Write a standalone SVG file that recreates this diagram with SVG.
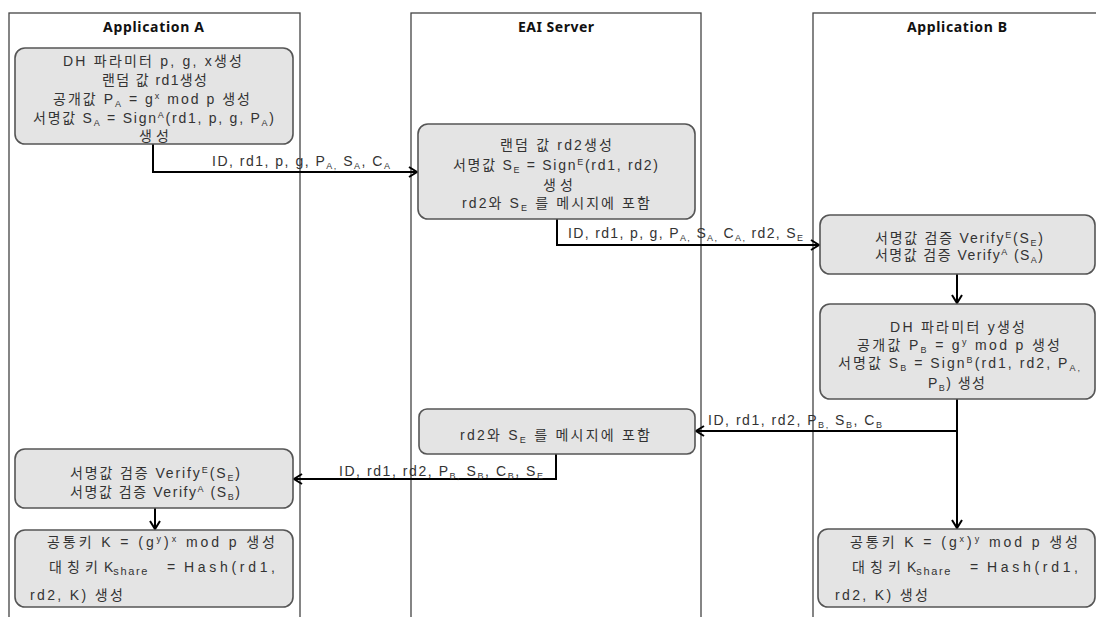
<svg xmlns="http://www.w3.org/2000/svg" width="1096" height="617" viewBox="0 0 1096 617">
<style>
.lane{fill:#fff;stroke:#444;stroke-width:1.3}
.hd{font-family:"Noto Sans","Liberation Sans",sans-serif;font-weight:bold;font-size:14px;fill:#111}
.box{fill:#e4e4e4;stroke:#555;stroke-width:1.6}
.t{font-family:"Liberation Sans","Noto Sans CJK KR",sans-serif;font-size:14px;fill:#333}
.sb{font-size:9px;baseline-shift:-2.5px}
.sp{font-size:9px;baseline-shift:5px}
.sh{font-size:11px;letter-spacing:1.6px;baseline-shift:-3px}
.ln{fill:none;stroke:#000;stroke-width:2}
</style>
<defs>
<marker id="ah" markerUnits="userSpaceOnUse" markerWidth="12" markerHeight="12" refX="9" refY="6" orient="auto">
<path d="M1,1 L9,6 L1,11" fill="none" stroke="#000" stroke-width="2"/>
</marker>
</defs>
<rect width="1096" height="617" fill="#fff"/>
<g id="lane-a"><rect class="lane" x="9" y="13" width="291" height="640"/><text class="hd" x="103" y="32" textLength="101" lengthAdjust="spacing">Application A</text></g>
<g id="lane-eai"><rect class="lane" x="411" y="13" width="290" height="640"/><text class="hd" x="518" y="32" textLength="76" lengthAdjust="spacing">EAI Server</text></g>
<g id="lane-b"><rect class="lane" x="813" y="13" width="300" height="640"/><text class="hd" x="907" y="32" textLength="100" lengthAdjust="spacing">Application B</text></g>

<g id="connectors">
<path class="ln" d="M153,144 V172 H417" marker-end="url(#ah)"/>
<path class="ln" d="M557,219 V245 H819" marker-end="url(#ah)"/>
<path class="ln" d="M957,274 V303" marker-end="url(#ah)"/>
<path class="ln" d="M957,399 V528" marker-end="url(#ah)"/>
<path class="ln" d="M957,431 H696" marker-end="url(#ah)"/>
<path class="ln" d="M556,454 V479 H294" marker-end="url(#ah)"/>
<path class="ln" d="M155,508 V529" marker-end="url(#ah)"/>
<text class="t" x="212" y="166" textLength="178" lengthAdjust="spacing">ID, rd1, p, g, P<tspan class="sb">A,</tspan> S<tspan class="sb">A</tspan>, C<tspan class="sb">A</tspan></text>
<text class="t" x="568" y="238" textLength="235" lengthAdjust="spacing">ID, rd1, p, g, P<tspan class="sb">A,</tspan> S<tspan class="sb">A,</tspan> C<tspan class="sb">A,</tspan> rd2, S<tspan class="sb">E</tspan></text>
<text class="t" x="708" y="425" textLength="174" lengthAdjust="spacing">ID, rd1, rd2, P<tspan class="sb">B,</tspan> S<tspan class="sb">B</tspan>, C<tspan class="sb">B</tspan></text>
<text class="t" x="339" y="476" textLength="204" lengthAdjust="spacing">ID, rd1, rd2, P<tspan class="sb">B,</tspan> S<tspan class="sb">B</tspan>, C<tspan class="sb">B</tspan>, S<tspan class="sb">E</tspan></text>
</g>

<g id="a1">
<rect class="box" x="15" y="48" width="278" height="96" rx="10"/>
<text class="t" x="63" y="66" textLength="179" lengthAdjust="spacing">DH 파라미터 p, g, x생성</text>
<text class="t" x="102" y="85" textLength="105" lengthAdjust="spacing">랜덤 값 rd1생성</text>
<text class="t" x="53" y="104" textLength="197" lengthAdjust="spacing">공개값 P<tspan class="sb">A</tspan> = g<tspan class="sp">x</tspan> mod p 생성</text>
<text class="t" x="33" y="123" textLength="241" lengthAdjust="spacing">서명값 S<tspan class="sb">A</tspan> = Sign<tspan class="sp">A</tspan>(rd1, p, g, P<tspan class="sb">A</tspan>)</text>
<text class="t" x="139" y="141" textLength="30" lengthAdjust="spacing">생성</text>
</g>

<g id="e1">
<rect class="box" x="418" y="124" width="277" height="95" rx="10"/>
<text class="t" x="500" y="150" textLength="112" lengthAdjust="spacing">랜덤 값 rd2생성</text>
<text class="t" x="453" y="170" textLength="205" lengthAdjust="spacing">서명값 S<tspan class="sb">E</tspan> = Sign<tspan class="sp">E</tspan>(rd1, rd2)</text>
<text class="t" x="543" y="190" textLength="30" lengthAdjust="spacing">생성</text>
<text class="t" x="462" y="208" textLength="188" lengthAdjust="spacing">rd2와 S<tspan class="sb">E</tspan> 를 메시지에 포함</text>
</g>

<g id="b1">
<rect class="box" x="820" y="215" width="275" height="59" rx="10"/>
<text class="t" x="875" y="243" textLength="168" lengthAdjust="spacing">서명값 검증 Verify<tspan class="sp">E</tspan>(S<tspan class="sb">E</tspan>)</text>
<text class="t" x="875" y="260" textLength="168" lengthAdjust="spacing">서명값 검증 Verify<tspan class="sp">A</tspan> (S<tspan class="sb">A</tspan>)</text>
</g>

<g id="b2">
<rect class="box" x="820" y="304" width="275" height="95" rx="10"/>
<text class="t" x="890" y="332" textLength="135" lengthAdjust="spacing">DH 파라미터 y생성</text>
<text class="t" x="857" y="350" textLength="203" lengthAdjust="spacing">공개값 P<tspan class="sb">B</tspan> = g<tspan class="sp">y</tspan> mod p 생성</text>
<text class="t" x="838" y="368" textLength="242" lengthAdjust="spacing">서명값 S<tspan class="sb">B</tspan> = Sign<tspan class="sp">B</tspan>(rd1, rd2, P<tspan class="sb">A,</tspan></text>
<text class="t" x="928" y="388" textLength="57" lengthAdjust="spacing">P<tspan class="sb">B</tspan>) 생성</text>
</g>

<g id="e2">
<rect class="box" x="419" y="409" width="276" height="45" rx="8"/>
<text class="t" x="460" y="440" textLength="190" lengthAdjust="spacing">rd2와 S<tspan class="sb">E</tspan> 를 메시지에 포함</text>
</g>

<g id="a3">
<rect class="box" x="15" y="449" width="278" height="59" rx="10"/>
<text class="t" x="70" y="478" textLength="170" lengthAdjust="spacing">서명값 검증 Verify<tspan class="sp">E</tspan>(S<tspan class="sb">E</tspan>)</text>
<text class="t" x="70" y="497" textLength="170" lengthAdjust="spacing">서명값 검증 Verify<tspan class="sp">A</tspan> (S<tspan class="sb">B</tspan>)</text>
</g>

<g id="a4">
<rect class="box" x="15" y="530" width="278" height="77" rx="10"/>
<text class="t" x="47" y="547" textLength="228" lengthAdjust="spacing">공통키 K = (g<tspan class="sp">y</tspan>)<tspan class="sp">x</tspan> mod p 생성</text>
<text class="t" x="49 63 67 81 85" y="572">대 칭 키</text>
<text class="t" x="104" y="572">K<tspan class="sh">share</tspan></text>
<text class="t" x="167" y="572">=</text>
<text class="t" x="184" y="572" textLength="91" lengthAdjust="spacing">Hash(rd1,</text>
<text class="t" x="30" y="600" textLength="93" lengthAdjust="spacing">rd2, K) 생성</text>
</g>

<g id="b3">
<rect class="box" x="818" y="529" width="277" height="78" rx="10"/>
<text class="t" x="850" y="547" textLength="228" lengthAdjust="spacing">공통키 K = (g<tspan class="sp">x</tspan>)<tspan class="sp">y</tspan> mod p 생성</text>
<text class="t" x="852 866 870 884 888" y="572">대 칭 키</text>
<text class="t" x="907" y="572">K<tspan class="sh">share</tspan></text>
<text class="t" x="970" y="572">=</text>
<text class="t" x="987" y="572" textLength="91" lengthAdjust="spacing">Hash(rd1,</text>
<text class="t" x="835" y="600" textLength="93" lengthAdjust="spacing">rd2, K) 생성</text>
</g>
</svg>
